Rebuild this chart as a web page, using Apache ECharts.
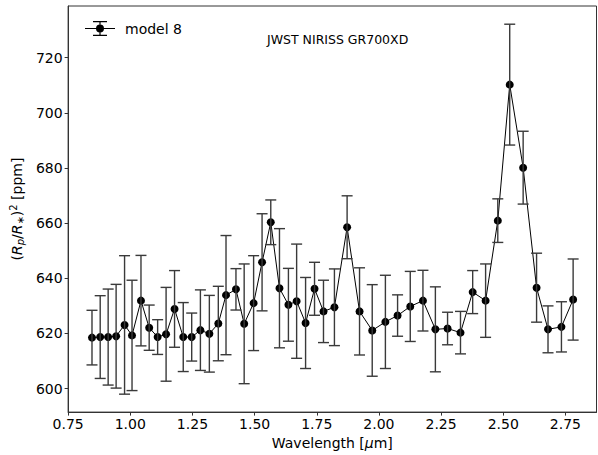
<!DOCTYPE html>
<html><head><meta charset="utf-8">
<script src="https://cdn.jsdelivr.net/npm/echarts@6/dist/echarts.min.js"></script>
<style>html,body{margin:0;padding:0;background:#fff}#c{width:598px;height:455px}</style>
</head><body><div id="c"></div>
<script>
const seriesName = 'model 8';
const titleText = 'JWST NIRISS GR700XD';
const wavelength = [0.846,0.879,0.911,0.943,0.977,1.007,1.043,1.076,1.110,1.144,1.178,1.213,1.247,1.282,1.318,1.354,1.385,1.425,1.458,1.496,1.530,1.565,1.600,1.636,1.669,1.705,1.741,1.777,1.821,1.872,1.922,1.973,2.026,2.075,2.126,2.177,2.227,2.276,2.328,2.377,2.429,2.478,2.526,2.580,2.634,2.680,2.734,2.781];
const depth = [618.5,618.7,618.7,619.0,623.1,619.3,631.9,622.1,618.7,619.7,628.9,618.7,618.7,621.2,619.9,623.6,633.9,636.0,623.5,631.0,645.8,660.3,636.4,630.4,631.7,623.8,636.2,628.0,629.5,658.5,628.0,621.1,624.2,626.5,629.8,631.9,621.5,621.8,620.3,635.0,631.9,660.9,710.2,680.1,636.6,621.5,622.4,632.3];
const depthErr = [9.9,15.0,17.4,18.8,25.1,20.0,16.4,8.2,6.3,17.0,13.9,12.5,8.7,14.6,13.9,13.5,21.6,7.5,21.7,17.2,17.6,8.1,21.6,13.2,20.7,16.5,9.6,11.3,13.9,11.4,15.8,16.6,16.9,7.5,12.7,11.0,15.4,5.9,7.7,7.8,13.3,7.9,21.9,13.2,12.5,8.5,9.1,14.7];
const xTicks = [0.75,1.00,1.25,1.50,1.75,2.00,2.25,2.50,2.75];
const yTicks = [600,620,640,660,680,700,720];

const FONT = 'DejaVu Sans';
const AX = '#333';
const chart = echarts.init(document.getElementById('c'), null, {renderer:'svg'});
const legendIcon = 'path://M0 7H30V8H0Z M14.4 0H15.6V15H14.4Z M8 0H22V1.2H8Z M8 13.8H22V15H8Z M19 7.5A4 4 0 1 1 11 7.5A4 4 0 1 1 19 7.5Z';

chart.setOption({
  animation:false,
  backgroundColor:'#fff',
  grid:{left:68,right:1.5,top:6,bottom:38,show:true,borderColor:AX,borderWidth:1},
  legend:{
    left:80, top:16, itemWidth:30, itemHeight:15, icon:legendIcon,
    data:[seriesName],
    textStyle:{fontFamily:FONT,fontSize:14,color:'#000',padding:[0,0,0,5]}
  },
  graphic:[{
    type:'text', left:267, top:33,
    style:{text:titleText, font:'12.5px "DejaVu Sans"', fill:'#000'}
  }],
  xAxis:{
    type:'value', min:0.75, max:2.875,
    name:'Wavelength [{i|μ}m]', nameLocation:'middle', nameGap:20,
    nameTextStyle:{fontFamily:FONT,fontSize:14,color:'#000',rich:{i:{fontFamily:FONT,fontSize:14,fontStyle:'italic',color:'#000'}}},
    axisLine:{show:true,onZero:false,lineStyle:{color:AX,width:1}},
    axisTick:{show:true,length:3.5,inside:false,customValues:xTicks,lineStyle:{color:AX,width:1}},
    axisLabel:{customValues:xTicks,margin:5,fontFamily:FONT,fontSize:14,color:'#000',formatter:v=>v.toFixed(2)},
    splitLine:{show:false}
  },
  yAxis:{
    type:'value', min:591.5, max:738.7,
    name:'{b|(}{i|R}{sub|p}{b|/}{i|R}{sub|∗}{b|)}{sup|2}{b| [ppm]}',
    nameLocation:'middle', nameGap:39, nameRotate:90,
    nameTextStyle:{fontFamily:FONT,fontSize:14,color:'#000',rich:{
      b:{fontFamily:FONT,fontSize:14,color:'#000',lineHeight:17},
      i:{fontFamily:FONT,fontSize:14,fontStyle:'italic',color:'#000',lineHeight:17},
      sub:{fontFamily:FONT,fontSize:10,fontStyle:'italic',color:'#000',lineHeight:10,verticalAlign:'bottom'},
      sup:{fontFamily:FONT,fontSize:10,color:'#000',lineHeight:10,verticalAlign:'top'}
    }},
    axisLine:{show:true,onZero:false,lineStyle:{color:AX,width:1}},
    axisTick:{show:true,length:3.5,inside:false,customValues:yTicks,lineStyle:{color:AX,width:1}},
    axisLabel:{customValues:yTicks,margin:5.5,fontFamily:FONT,fontSize:14,color:'#000'},
    splitLine:{show:false}
  },
  series:[
    {
      name:seriesName, type:'line', z:3,
      data:wavelength.map((w,i)=>[w,depth[i]]),
      symbol:'circle', symbolSize:8,
      itemStyle:{color:'#000'},
      lineStyle:{color:'#000',width:1}
    },
    {
      name:'err', type:'custom', z:4,
      data:wavelength.map((w,i)=>[w,depth[i],depthErr[i]]),
      encode:{x:0,y:1},
      renderItem:function(params,api){
        const x=api.value(0), y=api.value(1), e=api.value(2);
        const t=api.coord([x,y+e]), b=api.coord([x,y-e]);
        const w=5.5, st={stroke:'#3a3a3a',lineWidth:1.4};
        return {type:'group',children:[
          {type:'line',shape:{x1:t[0],y1:t[1],x2:b[0],y2:b[1]},style:st},
          {type:'line',shape:{x1:t[0]-w,y1:t[1],x2:t[0]+w,y2:t[1]},style:st},
          {type:'line',shape:{x1:b[0]-w,y1:b[1],x2:b[0]+w,y2:b[1]},style:st}
        ]};
      }
    }
  ]
});
</script>
</body></html>
